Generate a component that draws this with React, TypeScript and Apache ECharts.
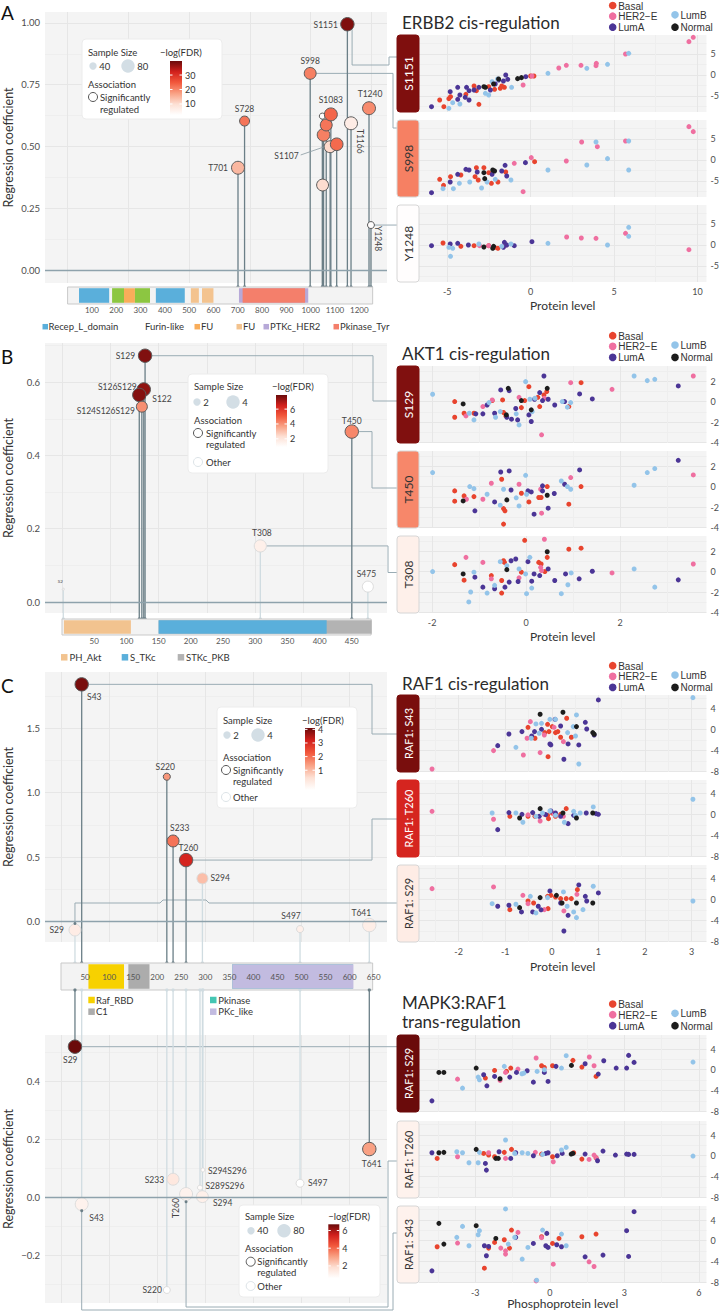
import React, { useEffect, useRef } from "react";
import * as echarts from "echarts";

const LATO = "Lato, 'Open Sans', 'DejaVu Sans', sans-serif";
const ARIAL = "'Liberation Sans', Arial, sans-serif";
const TXT = "#333333";
const TICK = "#4d4d4d";
const BG = "#f4f4f4";
const GRID_MAJOR = "#e6e6e6";
const GRID_MINOR = "#eeeeee";
const STEM_SIG = "#6b7f87";
const STEM_OTHER = "#d0dce1";
const ZERO = "#8ea2ac";
const LINK = "#9aacb4";

/* ---------------- subtypes ---------------- */
const SUBTYPES = ["Basal", "HER2\u2212E", "LumA", "LumB", "Normal"];
const SUB_KEYS = ["Basal", "HER2", "LumA", "LumB", "Normal"];
const SUBTYPE_COLORS = ["#e8442e", "#ef6fa0", "#4b3596", "#93c4e9", "#1d1d1d"];

/* -log(FDR) colour ramp */
const FDR_STOPS: [number, string][] = [
  [0, "#ffffff"], [0.2, "#fde0d4"], [0.4, "#f9a184"], [0.6, "#f2583c"], [0.8, "#d2201c"], [1, "#6a0b0b"],
];

/* ---------------- ERBB2 (panel A) ---------------- */
const ERBB2_LEN = 1255;
const ERBB2_SITES = ["S1050", "S1051", "S1079", "S1053", "S1064", "S1083", "S1107", "S1151", "S998", "T1240", "S728", "T701", "T1166", "Y1248"];
const ERBB2_POS = [1048, 1049, 1080, 1053, 1064, 1083, 1107, 1151, 998, 1240, 728, 701, 1166, 1248];
const ERBB2_COEF = [0.623, 0.344, 0.499, 0.547, 0.587, 0.63, 0.509, 0.995, 0.796, 0.655, 0.603, 0.414, 0.594, 0.182];
const ERBB2_N = [31, 70, 70, 75, 70, 77, 75, 80, 70, 77, 57, 77, 77, 37];
const ERBB2_FDR = [2.8, 10.2, 10.6, 20.7, 21.8, 23.3, 22.9, 38.2, 20.7, 19.6, 21.8, 14.7, 6.9, 2.8];
const ERBB2_SIG = [1, 1, 1, 1, 1, 1, 1, 1, 1, 1, 1, 1, 1, 1];
const ERBB2_DOM_START = [47, 183, 232, 277, 363, 507, 553, 705, 720];
const ERBB2_DOM_END = [171, 232, 277, 339, 482, 540, 600, 990, 977];
const ERBB2_DOM_COLORS = ["#5aafdb", "#8cc641", "#f9ad5a", "#8cc641", "#5aafdb", "#f3c38f", "#f3c38f", "#b7a9d8", "#f47f6b"];
const ERBB2_LEGEND = ["Recep_L_domain", "Furin-like", "FU", "FU", "PTKc_HER2", "Pkinase_Tyr"];
const ERBB2_LEGEND_COLORS = ["#5aafdb", "", "#f9ad5a", "#f3c38f", "#b7a9d8", "#f47f6b"];

const ERBB2_S1151 = {
  Basal: [[0.2, -0.24], [0.0, -0.24], [-1.57, -2.94], [-1.82, -3.17], [-2.16, -3.41], [-2.51, -2.78], [-3.1, -6.98], [-5.45, -5.95], [-5.2, -7.54], [-4.8, -5.16], [-4.9, -5.63], [-3.88, -4.6], [-3.39, -2.62], [-3.25, -3.73], [-1.73, -2.62]],
  HER2: [[9.75, 8.97], [9.49, 7.94], [5.69, 5.0], [1.69, 1.67], [2.14, 2.3], [3.02, 2.3], [3.94, 2.78], [3.92, 2.22], [-0.45, -2.38], [0.08, -0.24]],
  LumA: [[-5.94, -7.54], [-4.82, -3.97], [-4.37, -2.94], [-3.84, -2.94], [-3.69, -3.73], [-4.24, -4.76], [-3.92, -5.32], [-3.69, -5.95], [-4.37, -5.79], [-1.49, 0], [-1.92, -1.19], [-2.12, -2.14], [-1.63, -1.43], [-1.37, -1.03], [-0.29, -0.4], [-3.1, -2.94], [-2.41, -3.57], [-3.39, -3.57]],
  LumB: [[5.88, 5.16], [4.61, 2.54], [3.37, 1.59], [1.04, 0.4], [-1.14, -2.94], [-1.98, -0.95], [-2.71, -4.37], [-4.9, -7.94], [-4.24, -6.9], [-4.67, -6.59], [-2.31, -1.59], [-2.51, -4.76]],
  Normal: [[-2.8, -2.78], [-2.71, -2.94], [-2.22, -2.14], [-1.92, -0.95], [-0.78, -0.87], [-0.55, -0.63]],
};
const ERBB2_S998 = {
  Basal: [[0.24, -0.4], [-5.45, -4.6], [-5.22, -6.03], [-4.8, -3.97], [-4.18, -3.57], [-3.25, -1.83], [-3.14, -4.76], [-2.8, -1.83], [-2.51, -3.02], [-2.35, -5.56], [-1.96, -5.24], [-1.49, -2.86], [-3.33, -3.97]],
  HER2: [[9.49, 7.94], [9.75, 6.75], [3.06, 4.29], [5.69, 4.52], [4.0, 3.17], [0.04, 0.56], [2.14, -0.24], [-0.45, -7.54], [-0.98, -0.79]],
  LumA: [[-5.94, -7.78], [-4.82, -5.24], [-4.37, -3.41], [-3.88, -2.22], [-3.69, -2.38], [-3.2, -2.86], [-1.53, -1.27], [-1.73, -2.62], [-1.43, -3.81], [-0.31, -0.63], [-2.31, -3.41]],
  LumB: [[5.88, 4.52], [3.92, 4.29], [4.61, 0.32], [3.37, -1.19], [5.88, -2.38], [1.04, -2.38], [-1.18, -4.76], [-2.94, -6.67], [-4.63, -6.83], [-5.25, -6.83], [-4.27, -5.56], [-3.65, -5.24], [-2.61, -5.24], [-2.12, -4.6]],
  Normal: [[-2.8, -3.02], [-2.75, -4.44], [-2.27, -2.38], [-2.16, -2.62]],
};
const ERBB2_Y1248 = {
  Basal: [[-5.25, 0.48], [-4.18, -0.32], [-3.39, -0.16], [-2.51, -0.16], [-1.96, -0.79], [-2.16, -0.56]],
  HER2: [[9.49, -1.11], [5.69, 2.78], [2.16, 1.9], [3.04, 1.67], [3.92, 1.59], [-3.06, -0.16], [-2.51, -0.16], [-1.53, -0.16]],
  LumA: [[-5.94, -0.16], [-4.82, 0.24], [-4.37, 0.4], [-1.57, 0.63], [-1.43, 0], [-0.98, -0.16], [0.08, 0.79], [-1.63, -0.56], [-3.73, 0]],
  LumB: [[5.88, 4.21], [5.88, 2.06], [4.61, 0], [1.04, 0.4], [-4.8, -2.7], [-4.9, -0.56], [-4.67, -0.79], [-3.1, 0.24], [-1.18, 0.24], [-1.73, -0.32]],
  Normal: [[-2.8, -0.48], [-2.22, -0.32], [-2.27, -0.79]],
};

/* ---------------- AKT1 (panel B) ---------------- */
const AKT1_LEN = 480;
const AKT1_SITES = ["S2", "T308", "S475", "S129", "S126S129", "S122", "S124S126S129", "T450"];
const AKT1_POS = [2, 308, 475, 129, 127, 120, 124, 450];
const AKT1_COEF = [0.035, 0.153, 0.042, 0.672, 0.58, 0.565, 0.533, 0.465];
const AKT1_N = [0.2, 3.6, 3.2, 4, 4, 4, 3.2, 4];
const AKT1_FDR = [0.9, 1.6, 0.9, 7.6, 7.4, 7.55, 4.05, 4.2];
const AKT1_SIG = [0, 0, 0, 1, 1, 1, 1, 1];
const AKT1_DOM_START = [3, 150, 150];
const AKT1_DOM_END = [107, 481, 411];
const AKT1_DOM_COLORS = ["#f2c38f", "#b3b3b3", "#5aafdb"];
const AKT1_LEGEND = ["PH_Akt", "S_TKc", "STKc_PKB"];
const AKT1_LEGEND_COLORS = ["#f2c38f", "#5aafdb", "#b3b3b3"];

const AKT1_S129 = {
  Basal: [[-1.52, 0], [-1.52, -1.53], [-1.32, -1.14], [-1.11, -1.14], [-0.72, 0.1], [-0.5, 0.16], [-0.48, -1.07], [-0.43, -1.4], [-0.03, 0.1], [0.06, 1.46], [-0.1, -0.59], [0.25, 0.42], [0.29, -0.49], [0.38, 0.65], [0.44, 0.98], [1.17, 1.85], [0.91, -0.49]],
  HER2: [[-0.72, 0.16], [-0.92, -0.49], [-0.15, 0.42], [0.33, -3.25], [0.95, 1.85], [1.83, 1.2], [3.56, 2.5], [0.39, 0.33], [-1.28, -1.4]],
  LumA: [[0.38, 2.5], [-0.54, 1.14], [-0.36, 1.07], [-0.83, -0.33], [-0.22, -0.68], [0.18, 0.23], [0.29, 0.88], [0.35, 0.1], [0.47, 0.23], [0.61, -0.33], [0.82, 0], [1.14, 0.75], [1.41, 0.26], [3.24, 1.53], [-0.92, -1.2], [-0.67, -1.14], [-0.31, -1.72], [-0.18, -1.79], [0.06, -1.3], [0.11, -1.95], [-1.07, -1.2], [-0.41, -1.53]],
  LumB: [[-1.99, 0.72], [2.3, 2.5], [2.58, 2.05], [2.74, 2.18], [-0.01, 1.95], [-1.21, -1.14], [-1.11, -1.79], [-0.79, -0.1], [-0.65, -1.53], [-0.55, -0.98], [-0.21, -1.2], [-0.15, -2.28], [0.08, 0.23], [0.19, 0.33], [0.77, 0], [0.88, -0.55], [0.95, -0.1], [0.13, -0.98]],
  Normal: [[-1.34, -0.23], [-0.38, 1.3], [-0.1, 0.1], [0.11, -0.81], [0.45, 1.3], [-0.42, -1.3]],
};
const AKT1_T450 = {
  Basal: [[-1.52, -0.42], [-1.52, -1.43], [-1.32, -0.91], [-1.11, -0.98], [-0.52, 0.72], [-0.48, -2.15], [-0.45, -2.37], [-0.48, -3.67], [-0.1, -0.65], [0.06, -1.5], [0.27, -1.07], [0.32, -1.07], [0.45, 0], [0.91, -1.72], [1.17, 0]],
  HER2: [[-0.74, 0.33], [-0.92, -1.24], [-0.15, 0.23], [0.33, -2.6], [0.95, 0.88], [3.56, 1.14], [0.31, -0.26], [-1.27, -1.24]],
  LumA: [[-0.54, 1.43], [-0.36, 1.53], [-0.32, -0.33], [0.04, -0.42], [0.11, -0.52], [0.35, 0.07], [0.35, -0.42], [0.6, -0.68], [0.82, 0.23], [1.14, 1.63], [3.24, 2.57], [-1.09, -2.37], [-0.67, -1.5], [0.17, -2.7], [0.47, -2.11]],
  LumB: [[-1.99, 1.37], [2.3, 0.13], [2.58, 1.37], [2.74, 1.76], [-0.01, 1.1], [-1.2, 0], [-1.11, -0.2], [-0.83, -0.75], [-0.55, -1.82], [-0.48, -0.26], [-0.21, -1.1], [-0.15, -1.89], [0.01, -0.75], [0.75, 0.55], [0.88, 0], [0.95, -0.26]],
  Normal: [[-1.34, -1.4], [-0.41, -1.3], [0.45, -0.85]],
};
const AKT1_T308 = {
  Basal: [[-1.52, 0.68], [-1.32, -0.84], [-0.74, -0.39], [-0.52, -0.87], [-0.52, -2.1], [-0.48, 1.06], [-0.46, 0.9], [-0.1, -0.06], [0.27, 0.9], [0.32, 0.74], [0.4, 0], [0.45, 1.39], [0.91, 2.19], [1.17, 2.29], [-0.03, 3.06]],
  HER2: [[-1.28, 1.39], [-0.92, 0.9], [-0.74, -0.71], [-0.15, -0.61], [0.31, 0.42], [0.33, 0.1], [1.83, -0.13], [3.56, 0.74], [0.39, 3.16]],
  LumA: [[-1.09, -0.55], [-0.92, -1.52], [-0.67, -1.68], [-0.45, -1.52], [-0.36, -1.03], [-0.32, 1.06], [-0.22, 1.23], [-0.17, -0.97], [0.04, 0.97], [0.12, -0.94], [0.17, -0.23], [0.29, -0.39], [0.47, 0.26], [0.61, -0.87], [0.84, -0.23], [1.13, -0.71], [1.41, 0.03], [3.24, -0.81]],
  LumB: [[-1.99, 0], [-1.18, -2.0], [-1.22, -2.97], [-1.11, -0.06], [-0.83, -2.1], [-0.67, -1.35], [-0.55, 0.97], [-0.41, 0.58], [-0.15, 0.26], [-0.01, -0.23], [0.01, -2.16], [0.08, 1.39], [0.12, -1.61], [0.75, -2.16], [0.89, -1.29], [0.96, -0.13], [2.3, 0.26], [2.74, -1.52]],
  Normal: [[-1.34, -0.23], [-0.41, 0.19], [0.45, 1.94]],
};

/* ---------------- RAF1 (panel C) ---------------- */
const RAF1_LEN = 648;
const RAF1_CIS_SITES = ["S29", "S497", "T641", "S294", "S43", "S220", "S233", "T260"];
const RAF1_CIS_POS = [29, 497, 641, 294, 43, 220, 233, 260];
const RAF1_CIS_COEF = [-0.064, -0.057, -0.026, 0.336, 1.84, 1.124, 0.626, 0.478];
const RAF1_CIS_N = [3.5, 1.9, 4, 3.2, 4, 1.9, 3.5, 4];
const RAF1_CIS_FDR = [0.1, 0.0, 0.05, 0.95, 3.97, 1.49, 1.94, 3.11];
const RAF1_CIS_SIG = [0, 0, 0, 0, 1, 1, 1, 1];

const RAF1_TRANS_SITES = ["S220", "S43", "T260", "S294", "S289S296", "S294S296", "S233", "S497", "T641", "S29"];
const RAF1_TRANS_POS = [220, 43, 260, 294, 289, 295, 233, 497, 641, 29];
const RAF1_TRANS_COEF = [-0.319, -0.023, 0.012, 0.003, 0.034, 0.095, 0.063, 0.049, 0.167, 0.52];
const RAF1_TRANS_N = [37, 77, 77, 70, 24, 18, 70, 44, 80, 80];
const RAF1_TRANS_FDR = [0.6, 1.1, 1.1, 1.2, 0.7, 0.7, 1.5, 0.6, 3.04, 6.7];
const RAF1_TRANS_SIG = [0, 0, 0, 0, 0, 0, 0, 0, 1, 1];

const RAF1_DOM_START = [57, 140, 356, 356];
const RAF1_DOM_END = [131, 184, 607, 608];
const RAF1_DOM_COLORS = ["#f7d100", "#acacac", "#45c6b3", "#c2bbe0"];
const RAF1_LEGEND = ["Raf_RBD", "C1", "Pkinase", "PKc_like"];
const RAF1_LEGEND_COLORS = ["#f7d100", "#acacac", "#45c6b3", "#c2bbe0"];

const RAF1_S43 = {
  Basal: [[-0.51, 0.38], [-0.36, -1.71], [-0.09, 0.95], [0.01, 0.51], [0.08, -0.63], [0.13, -0.44], [0.19, -1.52], [0.32, 2.1], [0.42, -1.52], [-0.08, -5.21], [-0.15, -0.63], [-0.06, -0.44]],
  HER2: [[-2.57, -7.56], [-1.25, -4.06], [-0.61, -4.89], [-0.25, -4.44], [-0.46, 1.46], [-0.53, -1.71], [0.25, -2.35], [-0.16, -1.08], [0.05, 0.38]],
  LumA: [[1.0, 5.59], [-0.92, -0.89], [-1.16, -3.11], [-0.64, -0.44], [-0.22, 0], [0.07, 1.9], [-0.04, -2.79], [-0.02, -2.98], [0.19, 0.63], [0.26, -5.71], [0.35, -2.79], [0.58, -2.98], [0.72, 1.33], [0.75, 0.06], [0.91, -1.08], [-0.43, -1.27], [-0.37, -0.44]],
  LumB: [[3.03, 6.03], [0.53, 2.73], [-0.04, 1.9], [-0.22, 1.14], [-0.34, 1.02], [-0.27, -0.76], [-0.77, -3.43], [0.34, -0.63], [0.51, -1.27], [0.58, -6.6], [0.46, 0.51], [0.08, 1.9], [-0.44, -1.71]],
  Normal: [[-0.25, 2.86], [0.24, 3.24], [0.53, 0.51], [0.88, -0.63], [0.91, -0.95]],
};
const RAF1_T260 = {
  Basal: [[-0.9, -0.38], [-0.51, -0.38], [-0.36, -0.38], [-0.09, -0.19], [0.01, 0.25], [0.08, -0.38], [0.19, 0], [0.31, 1.08], [-0.07, -0.83]],
  HER2: [[-2.57, 0.57], [-1.25, -0.95], [-0.25, -1.27], [-0.51, -0.1], [-0.16, 0], [0.25, -0.38], [0.05, 0.1]],
  LumA: [[-1.16, -2.92], [-0.92, 0.32], [-0.64, 0], [-0.41, 0.32], [-0.27, -0.38], [-0.13, -0.06], [-0.02, 0.63], [0.08, 0.25], [0.19, -0.38], [0.35, -1.78], [0.47, -0.19], [0.74, 0.25], [1.0, 0], [0.95, 0.13]],
  LumB: [[3.03, 2.86], [-1.28, 0.25], [-0.77, 0.25], [-0.62, -1.52], [-0.34, -0.38], [-0.2, 0.25], [0.08, -0.19], [0.27, -1.52], [0.47, 0.57], [0.51, -0.19], [0.61, 0.25], [0.89, 1.4], [-0.04, 0.63]],
  Normal: [[-0.25, 1.08], [-0.69, -0.7], [0.24, 0.25], [0.53, -0.7], [0.88, 0.25]],
};
const RAF1_S29 = {
  Basal: [[-0.9, -1.97], [-0.51, -0.32], [-0.39, -0.7], [-0.09, 0.57], [-0.02, 0.76], [0.08, 0.44], [0.19, 0.13], [0.31, 0.13], [0.42, 0.13], [0.55, 1.84], [-0.08, -1.78]],
  HER2: [[-2.57, 2.03], [-1.25, 2.35], [-0.62, 0.76], [-0.51, -0.83], [-0.16, -1.97], [0.26, -2.22], [0.54, 0.95]],
  LumA: [[-1.16, -1.33], [-0.92, -1.14], [-0.65, -2.41], [-0.41, -2.41], [-0.29, -1.33], [-0.04, 1.59], [0.19, -0.7], [0.26, -6.03], [0.35, -3.05], [0.58, 2.73], [0.72, 0.57], [0.75, -0.32], [1.0, 1.21], [-0.23, -2.0]],
  LumB: [[-1.28, -0.83], [-0.77, -0.95], [-0.34, -2.6], [-0.46, 0.57], [-0.09, 0.32], [0.25, 1.4], [0.47, -2.41], [0.53, -3.49], [0.67, -1.97], [0.89, 2.48], [0.33, -1.33], [3.03, -0.32]],
  Normal: [[-0.69, -1.59], [-0.25, 0.32], [0.1, 0.76], [0.22, -0.7], [0.53, -0.7], [0.88, -0.7]],
};
const MAPK3_S29 = {
  Basal: [[-2.59, -1.61], [-2.22, -0.13], [-1.74, -0.32], [-1.57, 0.32], [-0.33, 0.77], [0.11, 0.77], [0.93, 1.81], [1.29, 0.52], [1.86, -1.29], [-0.22, 0.45]],
  HER2: [[-3.71, -1.81], [-0.55, 2.26], [1.59, 2.45], [1.78, 0.77], [-1.28, 0.13], [-1.78, -0.52], [-2.0, -2.06]],
  LumA: [[-2.66, -0.97], [-2.53, -3.1], [-2.22, -1.29], [-1.61, -1.42], [-1.34, -0.52], [-0.91, -0.19], [-0.66, -2.39], [-0.22, -0.52], [-0.07, -2.26], [0.25, 0.65], [1.42, 1.16], [1.95, -0.84], [2.17, 1.74], [2.67, 0.32], [3.09, 0.32], [3.17, 2.77], [3.39, 1.42], [-4.74, -6.0]],
  LumB: [[-3.51, -3.55], [-2.88, -1.42], [-2.83, -1.94], [-1.83, 0.65], [-1.12, -0.77], [-1.04, -0.65], [-0.51, -0.32], [-0.22, 0], [0.47, 0.32], [0.66, 2.71], [5.76, 1.48]],
  Normal: [[-4.46, -0.52], [-4.26, -0.52], [-2.96, 0.32], [-2.0, -1.74], [0.87, 0.84]],
};
const MAPK3_T260 = {
  Basal: [[-4.53, -0.52], [-2.46, 0.13], [-2.22, -0.19], [-1.83, 0.65], [-1.54, 1.23], [-0.33, 0.32], [0.11, -0.19], [0.96, 0.58], [1.29, -0.65], [1.86, -0.39], [-2.66, 0.45]],
  HER2: [[-3.71, -0.19], [-2.46, 0.58], [-1.78, -0.52], [-0.58, 0.65], [0.14, -1.16], [1.58, -0.71], [1.78, 0.13], [1.88, -0.5]],
  LumA: [[-4.74, 0.58], [-2.59, -1.48], [-2.55, -2.77], [-2.04, 0.77], [-1.57, -0.52], [-1.37, 0.58], [-0.66, 0], [-0.16, 0.45], [-0.07, 0.58], [0.3, 0], [0.5, 0.45], [1.42, 0.32], [1.92, -0.97], [2.14, 0.9], [2.64, 0.13], [3.09, 0.32], [3.17, 0.26], [3.39, 0.26]],
  LumB: [[-3.74, 0.77], [-3.51, 0.58], [-3.25, -1.35], [-2.88, -1.35], [-2.83, 0.65], [-1.78, 3.03], [-1.41, 0.45], [-1.11, 0.58], [-0.88, 0.45], [-0.29, 0.26], [0.66, 1.61], [5.76, -0.06], [0.47, 1.1]],
  Normal: [[-4.46, 0.58], [-4.26, 0.65], [-2.96, 1.23], [-2.17, -0.52], [-2.07, -0.52], [0.86, 0.32], [0.93, 0.45]],
};
const MAPK3_S43 = {
  Basal: [[-4.53, -1.16], [-2.63, -5.29], [-2.46, -1.42], [-2.22, -0.32], [-1.83, 0.19], [-1.62, -1.42], [-1.54, 2.06], [-0.33, 0.77], [0.11, -0.52], [0.37, 0.45], [1.29, 0.77], [1.86, 1.29]],
  HER2: [[-3.71, -0.45], [-1.97, -1.42], [-1.78, -1.94], [-1.78, -2.58], [-1.28, 1.61], [-0.55, -7.74], [0.14, -4.52], [1.58, -4.06], [1.78, -4.97], [-0.33, 0.6]],
  LumA: [[-4.74, -5.81], [-2.55, -2.9], [-2.46, -1.1], [-2.63, -0.97], [-1.37, 0.65], [-0.66, -0.52], [-0.12, 1.42], [-0.16, -0.97], [-0.07, -1.29], [0.28, -0.77], [0.47, -1.16], [1.42, -3.1], [2.14, -2.77], [3.09, 1.94], [3.17, -3.03], [3.39, 5.61]],
  LumB: [[-3.74, 0.65], [-3.51, 2.77], [-3.25, -0.97], [-2.88, 1.16], [-2.83, 1.94], [-1.78, 6.13], [-1.67, -0.65], [-1.41, 0.65], [-1.11, -3.55], [-0.88, -1.29], [-0.29, 2.06], [-0.53, -7.61], [0.47, 1.29], [0.66, -0.97]],
  Normal: [[-4.46, 3.35], [-4.26, -0.65], [-2.96, 2.9], [-2.17, 0.45]],
};

/* ---------------- label layout (offsets in px, not data) ---------------- */
const LAB_A: any = {
  S1151: { dx: -9.5, dy: 0.5, al: "right" },
  S998: { dx: 0, dy: -12.5 },
  T1240: { dx: 1, dy: -14 },
  S728: { dx: 0, dy: -12 },
  T701: { dx: -10, dy: 0, al: "right" },
  S1083: { dx: 0, dy: -14 },
  S1107: { dx: -38, dy: 12, al: "right", lead: [-36, 10.7, -12, 2.4] },
  T1166: { dx: 8.5, dy: 18, rot: -90 },
  Y1248: { dx: 7.5, dy: 13.5, rot: -90 },
};
const LAB_B: any = {
  S129: { dx: -10, dy: 0, al: "right" },
  S126S129: { dx: -7, dy: -2, al: "right" },
  S122: { dx: 13, dy: 4, al: "left" },
  S124S126S129: { dx: -7, dy: 4.5, al: "right" },
  T450: { dx: 0, dy: -11 },
  T308: { dx: 1.5, dy: -13 },
  S475: { dx: -1.5, dy: -13 },
  S2: { dx: -3, dy: -7.5, fs: 4.5 },
};
const LAB_C: any = {
  S43: { dx: 12.6, dy: 12.4 },
  S220: { dx: -1.6, dy: -10 },
  S233: { dx: 6.7, dy: -12.7 },
  T260: { dx: 2.3, dy: -12 },
  S294: { dx: 8, dy: 0, al: "left" },
  S29: { dx: -11, dy: 0, al: "right" },
  S497: { dx: -9, dy: -13 },
  T641: { dx: -8, dy: -12 },
};
const LAB_T: any = {
  S29: { dx: -4.7, dy: 13.3 },
  T641: { dx: 2.4, dy: 15 },
  S233: { dx: -9, dy: 0.7, al: "right" },
  S294S296: { dx: 5, dy: 1, al: "left" },
  S289S296: { dx: 5.5, dy: -2, al: "left" },
  T260: { dx: -10, dy: 14, rot: 90 },
  S294: { dx: 10.5, dy: 6.6, al: "left" },
  S497: { dx: 8, dy: 0, al: "left" },
  S43: { dx: 7.6, dy: 14, al: "left" },
  S220: { dx: -5, dy: 0, al: "right" },
};

/* ---------------- helpers ---------------- */
function mix(c1: string, c2: string, t: number) {
  const a = parseInt(c1.slice(1), 16), b = parseInt(c2.slice(1), 16);
  const r = Math.round(((a >> 16) & 255) * (1 - t) + ((b >> 16) & 255) * t);
  const g = Math.round(((a >> 8) & 255) * (1 - t) + ((b >> 8) & 255) * t);
  const bl = Math.round((a & 255) * (1 - t) + (b & 255) * t);
  return "#" + ((1 << 24) + (r << 16) + (g << 8) + bl).toString(16).slice(1);
}
function fdrT(v: number, lo: number, hi: number) {
  return Math.max(0, Math.min(1, (v - lo) / (hi - lo)));
}
function fdrColor(v: number, lo: number, hi: number) {
  const t = fdrT(v, lo, hi);
  for (let i = 1; i < FDR_STOPS.length; i++) {
    const [t0, c0] = FDR_STOPS[i - 1];
    const [t1, c1] = FDR_STOPS[i];
    if (t <= t1) return mix(c0, c1, (t - t0) / (t1 - t0));
  }
  return FDR_STOPS[FDR_STOPS.length - 1][1];
}
function fmtStep(step: number, dec: number, minus: string) {
  return (v: number) => {
    const q = v / step;
    if (Math.abs(q - Math.round(q)) > 1e-6) return "";
    const r = Math.round(q) * step;
    const s = Math.abs(r).toFixed(dec);
    return r < -1e-9 ? minus + s : s;
  };
}

/* panel configs */
const CFG_A = { top: 12, height: 271, xMin: -93, xMax: 1314, xGrid: 250, yMin: -0.0526, yMax: 1.0445, yStep: 0.25, yDec: 2, lo: 2.4, hi: 39.7, k: 0.075, stemEnd: 287, sites: ERBB2_SITES, pos: ERBB2_POS, coef: ERBB2_COEF, n: ERBB2_N, fdr: ERBB2_FDR, sig: ERBB2_SIG, labels: LAB_A };
const CFG_B = { top: 343, height: 270, xMin: -26.4, xMax: 504.7, xGrid: 75, yMin: -0.03, yMax: 0.7067, yStep: 0.2, yDec: 1, lo: 0.9, hi: 7.9, k: 1.5, stemEnd: 619, sites: AKT1_SITES, pos: AKT1_POS, coef: AKT1_COEF, n: AKT1_N, fdr: AKT1_FDR, sig: AKT1_SIG, labels: LAB_B };
const CFG_C = { top: 672, height: 270, xMin: -33.3, xMax: 677.8, xGrid: 100, yMin: -0.157, yMax: 1.9357, yStep: 0.5, yDec: 1, lo: -0.45, hi: 4.1, k: 1.5, stemEnd: 963, sites: RAF1_CIS_SITES, pos: RAF1_CIS_POS, coef: RAF1_CIS_COEF, n: RAF1_CIS_N, fdr: RAF1_CIS_FDR, sig: RAF1_CIS_SIG, labels: LAB_C };
const CFG_T = { top: 1035, height: 268, xMin: -33.3, xMax: 677.8, xGrid: 100, yMin: -0.3638, yMax: 0.5603, yStep: 0.2, yDec: 1, lo: 0.6, hi: 6.7, k: 0.075, stemEnd: 990, sites: RAF1_TRANS_SITES, pos: RAF1_TRANS_POS, coef: RAF1_TRANS_COEF, n: RAF1_TRANS_N, fdr: RAF1_TRANS_FDR, sig: RAF1_TRANS_SIG, labels: LAB_T };

const radius = (n: number, k: number) => 0.7 + k * n;

function buildOption() {
  const grid: any[] = [], xAxis: any[] = [], yAxis: any[] = [], series: any[] = [];

  const lolli = (c: any) => {
    const gi = grid.length;
    grid.push({ left: 45, width: 342, top: c.top, height: c.height, show: true, backgroundColor: BG, borderWidth: 0 });
    xAxis.push({
      gridIndex: gi, type: "value", min: c.xMin, max: c.xMax, minInterval: c.xGrid, maxInterval: c.xGrid,
      axisLabel: { show: false }, axisLine: { show: false }, axisTick: { show: false },
      splitLine: { show: true, showMinLine: false, showMaxLine: false, lineStyle: { color: GRID_MAJOR } },
    });
    yAxis.push({
      gridIndex: gi, type: "value", min: c.yMin, max: c.yMax, minInterval: c.yStep, maxInterval: c.yStep,
      name: "Regression coefficient", nameLocation: "middle", nameGap: 30,
      nameTextStyle: { fontSize: 12.5, color: TXT, fontFamily: LATO },
      axisLine: { show: false }, axisTick: { show: false },
      axisLabel: { fontSize: 9.5, color: TICK, fontFamily: LATO, margin: 5, showMinLabel: false, showMaxLabel: false, formatter: fmtStep(c.yStep, c.yDec, "\u2212") },
      splitLine: { showMinLine: false, showMaxLine: false, lineStyle: { color: GRID_MAJOR } },
      minorTick: { show: false, splitNumber: 2 },
      minorSplitLine: { show: true, lineStyle: { color: GRID_MINOR } },
    });
    // zero line
    series.push({
      type: "scatter", xAxisIndex: gi, yAxisIndex: gi, data: [[0, 0]], symbolSize: 0, silent: true, z: 1,
      markLine: { silent: true, symbol: "none", label: { show: false }, lineStyle: { color: ZERO, width: 1.3, type: "solid" }, data: [{ yAxis: 0 }] },
    });
    // stems
    series.push({
      type: "custom", xAxisIndex: gi, yAxisIndex: gi, z: 2, silent: true, clip: false,
      data: c.pos.map((p: number, i: number) => [p, c.coef[i], c.sig[i]]),
      renderItem: (params: any, api: any) => {
        const p = api.coord([api.value(0), api.value(1)]);
        const col = api.value(2) ? STEM_SIG : STEM_OTHER;
        return {
          type: "group",
          children: [
            { type: "line", shape: { x1: p[0], y1: p[1], x2: p[0], y2: c.stemEnd }, style: { stroke: col, lineWidth: 1.3 } },
            { type: "circle", shape: { cx: p[0], cy: c.stemEnd, r: 1.6 }, style: { fill: col } },
          ],
        };
      },
    });
    // circles
    series.push({
      type: "scatter", xAxisIndex: gi, yAxisIndex: gi, z: 3, silent: true, clip: false,
      data: c.pos.map((p: number, i: number) => ({
        value: [p, c.coef[i]],
        symbolSize: 2 * radius(c.n[i], c.k),
        itemStyle: { color: fdrColor(c.fdr[i], c.lo, c.hi), borderColor: c.sig[i] ? "#5a5a5a" : "#dcdcdc", borderWidth: 1, opacity: 1 },
      })),
    });
    // labels
    series.push({
      type: "custom", xAxisIndex: gi, yAxisIndex: gi, z: 4, silent: true, clip: false,
      data: c.pos.map((p: number, i: number) => [p, c.coef[i], i]),
      renderItem: (params: any, api: any) => {
        const name = c.sites[api.value(2)];
        const L = c.labels[name];
        if (!L) return { type: "group", children: [] };
        const p = api.coord([api.value(0), api.value(1)]);
        const children: any[] = [{
          type: "text", x: p[0] + L.dx, y: p[1] + L.dy, rotation: ((L.rot || 0) * Math.PI) / 180,
          style: { text: name, fill: "#444", fontSize: L.fs || 8.5, fontFamily: LATO, align: L.al || "center", verticalAlign: "middle" },
        }];
        if (L.lead) children.push({ type: "line", shape: { x1: p[0] + L.lead[0], y1: p[1] + L.lead[1], x2: p[0] + L.lead[2], y2: p[1] + L.lead[3] }, style: { stroke: "#8a9aa2", lineWidth: 0.8 } });
        return { type: "group", children };
      },
    });
    return gi;
  };

  const bar = (c: any) => {
    const gi = grid.length;
    grid.push({ left: 45, width: 342, top: c.top, height: c.height, show: false });
    xAxis.push({
      gridIndex: gi, type: "value", min: c.xMin, max: c.xMax, minInterval: c.tick, maxInterval: c.tick,
      position: c.inside ? "top" : "bottom", z: 10,
      axisLine: { show: false }, axisTick: { show: false }, splitLine: { show: false },
      axisLabel: {
        inside: !!c.inside, margin: c.margin, fontSize: 8, color: "#555", fontFamily: LATO, showMinLabel: false, showMaxLabel: false,
        formatter: (v: number) => {
          const r = Math.round(v);
          return Math.abs(v - r) < 1e-6 && r > 0 && r <= c.maxLabel && r % c.tick === 0 ? String(r) : "";
        },
      },
    });
    yAxis.push({ gridIndex: gi, type: "value", min: 0, max: 1, show: false });
    series.push({
      type: "custom", xAxisIndex: gi, yAxisIndex: gi, z: 2, silent: true, clip: false,
      data: [[0, c.len]],
      renderItem: (params: any, api: any) => {
        const a = api.coord([api.value(0), 1]);
        const b = api.coord([api.value(1), 0]);
        return { type: "rect", shape: { x: a[0], y: a[1], width: b[0] - a[0], height: b[1] - a[1] }, style: { fill: "#f3f3f3", stroke: "#c9c9c9", lineWidth: 1 } };
      },
    });
    series.push({
      type: "custom", xAxisIndex: gi, yAxisIndex: gi, z: 3, silent: true, clip: false,
      data: c.start.map((s: number, i: number) => [s, c.end[i], i]),
      renderItem: (params: any, api: any) => {
        const a = api.coord([api.value(0), 1]);
        const b = api.coord([api.value(1), 0]);
        return { type: "rect", shape: { x: a[0], y: a[1] + 1.2, width: b[0] - a[0], height: b[1] - a[1] - 2.4 }, style: { fill: c.colors[api.value(2)] } };
      },
    });
    return gi;
  };

  const facets = (c: any) => {
    const ids: number[] = [];
    c.tops.forEach((top: number, k: number) => {
      const gi = grid.length;
      ids.push(gi);
      const last = k === c.tops.length - 1;
      grid.push({ left: 419, width: 293, top, height: c.h, show: true, backgroundColor: BG, borderWidth: 0 });
      xAxis.push({
        gridIndex: gi, type: "value", min: c.xMin, max: c.xMax, minInterval: c.xStep, maxInterval: c.xStep,
        axisLine: { show: false }, axisTick: { show: false },
        axisLabel: { show: last, fontSize: 9, color: TICK, fontFamily: LATO, margin: 5, showMinLabel: false, showMaxLabel: false, formatter: fmtStep(c.xStep, 0, "-") },
        splitLine: { showMinLine: false, showMaxLine: false, lineStyle: { color: GRID_MAJOR } },
        minorTick: { show: false, splitNumber: 2 },
        minorSplitLine: { show: true, lineStyle: { color: GRID_MINOR } },
        name: last ? c.title : "", nameLocation: "middle", nameGap: c.nameGap,
        nameTextStyle: { fontSize: 12, color: TXT, fontFamily: LATO },
      });
      yAxis.push({
        gridIndex: gi, type: "value", position: "right", min: c.yMin, max: c.yMax, minInterval: c.yStep, maxInterval: c.yStep,
        axisLine: { show: false }, axisTick: { show: false },
        axisLabel: { fontSize: 9, color: TICK, fontFamily: LATO, margin: 4, showMinLabel: false, showMaxLabel: false, formatter: fmtStep(c.yStep, 0, "-") },
        splitLine: { showMinLine: false, showMaxLine: false, lineStyle: { color: GRID_MAJOR } },
        minorTick: { show: false, splitNumber: 2 },
        minorSplitLine: { show: true, lineStyle: { color: GRID_MINOR } },
      });
      const pts: any = c.panels[k];
      SUB_KEYS.forEach((key, s) => {
        series.push({ type: "scatter", xAxisIndex: gi, yAxisIndex: gi, silent: true, symbolSize: 5, z: 3, itemStyle: { color: SUBTYPE_COLORS[s], opacity: 1 }, data: pts[key] });
      });
    });
    return ids;
  };

  const gA = lolli(CFG_A);
  bar({ top: 287, height: 17, xMin: CFG_A.xMin, xMax: CFG_A.xMax, tick: 100, maxLabel: 1200, margin: 2, len: ERBB2_LEN, start: ERBB2_DOM_START, end: ERBB2_DOM_END, colors: ERBB2_DOM_COLORS });
  facets({ tops: [35, 120, 205], h: 77, xMin: -6.69, xMax: 10.54, xStep: 5, yMin: -8.81, yMax: 9.52, yStep: 5, title: "Protein level", nameGap: 17, panels: [ERBB2_S1151, ERBB2_S998, ERBB2_Y1248] });

  const gB = lolli(CFG_B);
  bar({ top: 619, height: 16, xMin: CFG_B.xMin, xMax: CFG_B.xMax, tick: 50, maxLabel: 450, margin: 2, len: AKT1_LEN, start: AKT1_DOM_START, end: AKT1_DOM_END, colors: AKT1_DOM_COLORS });
  facets({ tops: [366, 451, 536], h: 77, xMin: -2.28, xMax: 3.84, xStep: 2, yMin: -4.05, yMax: 3.48, yStep: 2, title: "Protein level", nameGap: 17, panels: [AKT1_S129, AKT1_T450, AKT1_T308] });

  const gC = lolli(CFG_C);
  bar({ top: 963, height: 27, xMin: CFG_C.xMin, xMax: CFG_C.xMax, tick: 50, maxLabel: 650, margin: 9.5, inside: true, len: RAF1_LEN, start: RAF1_DOM_START, end: RAF1_DOM_END, colors: RAF1_DOM_COLORS });
  facets({ tops: [695, 780, 865], h: 77, xMin: -2.85, xMax: 3.32, xStep: 1, yMin: -8.13, yMax: 6.53, yStep: 4, title: "Protein level", nameGap: 18, panels: [RAF1_S43, RAF1_T260, RAF1_S29] });

  const gT = lolli(CFG_T);
  facets({ tops: [1035, 1121, 1206], h: 77, xMin: -5.26, xMax: 6.3, xStep: 3, yMin: -8.15, yMax: 6.7, yStep: 4, title: "Phosphoprotein level", nameGap: 14, panels: [MAPK3_S29, MAPK3_T260, MAPK3_S43] });

  return {
    option: { animation: false, textStyle: { fontFamily: LATO }, grid, xAxis, yAxis, series },
    ids: { gA, gB, gC, gT },
  };
}

function buildGraphics(chart: any, ids: any) {
  const g: any[] = [];
  const text = (x: number, y: number, t: string, o: any = {}) =>
    g.push({
      type: "text", x, y, z: o.z ?? 12, silent: true, rotation: o.rot ?? 0,
      style: { text: t, fill: o.color ?? TXT, fontSize: o.size ?? 9.5, fontFamily: o.font ?? LATO, align: o.align ?? "left", verticalAlign: o.va ?? "middle" },
    });
  const rect = (x: number, y: number, w: number, h: number, fill: any, o: any = {}) =>
    g.push({ type: "rect", z: o.z ?? 11, silent: true, shape: { x, y, width: w, height: h, r: o.r ?? 0 }, style: { fill, stroke: o.stroke ?? null, lineWidth: o.lw ?? 1 } });
  const circ = (cx: number, cy: number, r: number, fill: string, o: any = {}) =>
    g.push({ type: "circle", z: o.z ?? 12, silent: true, shape: { cx, cy, r }, style: { fill, stroke: o.stroke ?? null, lineWidth: o.lw ?? 1 } });
  const line = (x1: number, y1: number, x2: number, y2: number, col: string, o: any = {}) =>
    g.push({ type: "line", z: o.z ?? 12, silent: true, shape: { x1, y1, x2, y2 }, style: { stroke: col, lineWidth: o.lw ?? 1 } });
  const link = (pts: number[][]) =>
    g.push({ type: "polyline", z: 1, silent: true, shape: { points: pts }, style: { stroke: LINK, lineWidth: 1, fill: "none" } });
  const site = (gi: number, c: any, name: string) => {
    const i = c.sites.indexOf(name);
    return { p: chart.convertToPixel({ gridIndex: gi }, [c.pos[i], c.coef[i]]), r: radius(c.n[i], c.k), fill: fdrColor(c.fdr[i], c.lo, c.hi), t: fdrT(c.fdr[i], c.lo, c.hi) };
  };

  /* panel letters */
  text(1, 12, "A", { size: 19, color: "#111" });
  text(1, 356, "B", { size: 19, color: "#111" });
  text(1, 685, "C", { size: 19, color: "#111" });

  /* titles */
  text(402, 22, "ERBB2 cis-regulation", { size: 17, color: "#2b2b2b" });
  text(402, 353, "AKT1 cis-regulation", { size: 17, color: "#2b2b2b" });
  text(402, 683, "RAF1 cis-regulation", { size: 17, color: "#2b2b2b" });
  text(402, 1002, "MAPK3:RAF1", { size: 17, color: "#2b2b2b" });
  text(402, 1021.5, "trans-regulation", { size: 17, color: "#2b2b2b" });

  /* subtype legends */
  const subLegend = (y0: number) => {
    const pos = [[612.7, y0], [612.7, y0 + 10.7], [612.7, y0 + 21.7], [675, y0 + 9.3], [675, y0 + 21.7]];
    SUBTYPES.forEach((s, i) => {
      circ(pos[i][0], pos[i][1], 3.8, SUBTYPE_COLORS[i]);
      text(pos[i][0] + 5.5, pos[i][1] + 0.5, s, { size: 10, font: ARIAL, color: "#333" });
    });
  };
  subLegend(5.5);
  subLegend(335.7);
  subLegend(665.7);
  subLegend(1004);

  /* strips */
  const strip = (top: number, h: number, label: string, s: any, fs: number) => {
    const dark = s.t > 0.55;
    rect(397, top, 22, h, s.fill, { r: 3, stroke: dark ? s.fill : "#d6d6d6", z: 5 });
    text(408.5, top + h / 2, label, { rot: Math.PI / 2, align: "center", size: fs, color: dark ? "#ffffff" : "#333", z: 6 });
  };
  const sA1 = site(ids.gA, CFG_A, "S1151"), sA2 = site(ids.gA, CFG_A, "S998"), sA3 = site(ids.gA, CFG_A, "Y1248");
  strip(35, 77, "S1151", sA1, 12);
  strip(120, 77, "S998", sA2, 12);
  strip(205, 77, "Y1248", sA3, 12);
  const sB1 = site(ids.gB, CFG_B, "S129"), sB2 = site(ids.gB, CFG_B, "T450"), sB3 = site(ids.gB, CFG_B, "T308");
  strip(366, 77, "S129", sB1, 12);
  strip(451, 77, "T450", sB2, 12);
  strip(536, 77, "T308", sB3, 12);
  const sC1 = site(ids.gC, CFG_C, "S43"), sC2 = site(ids.gC, CFG_C, "T260"), sC3 = site(ids.gC, CFG_C, "S29");
  strip(695, 77, "RAF1: S43", sC1, 11);
  strip(780, 77, "RAF1: T260", sC2, 11);
  strip(865, 77, "RAF1: S29", sC3, 11);
  const sT1 = site(ids.gT, CFG_T, "S29"), sT2 = site(ids.gT, CFG_T, "T260"), sT3 = site(ids.gT, CFG_T, "S43");
  strip(1035, 77, "RAF1: S29", sT1, 11);
  strip(1121, 77, "RAF1: T260", sT2, 11);
  strip(1206, 77, "RAF1: S43", sT3, 11);

  /* connectors */
  link([[sA1.p[0] + 4.7, sA1.p[1] + 5], [sA1.p[0] + 4.7, 65], [389, 65], [389, 57], [397, 57]]);
  link([[sA2.p[0] + sA2.r, sA2.p[1]], [393, sA2.p[1]], [393, 128], [397, 128]]);
  link([[sA3.p[0] + sA3.r, sA3.p[1]], [397, sA3.p[1]]]);
  link([[sB1.p[0] + sB1.r, sB1.p[1]], [373, sB1.p[1]], [373, 401], [397, 401]]);
  link([[sB2.p[0] + sB2.r, sB2.p[1]], [372, sB2.p[1]], [372, 488], [397, 488]]);
  link([[sB3.p[0] + sB3.r, sB3.p[1]], [388, sB3.p[1]], [388, 572.5], [397, 572.5]]);
  link([[sC1.p[0] + sC1.r, sC1.p[1]], [372, sC1.p[1]], [372, 734], [397, 734]]);
  link([[sC2.p[0] + sC2.r, sC2.p[1]], [372, sC2.p[1]], [372, 819], [397, 819]]);
  link([[sC3.p[0], sC3.p[1] - 6.5], [sC3.p[0], 903], [160, 903], [163, 900], [206, 900], [209, 903], [397, 903]]);
  circ(sC3.p[0], sC3.p[1] - 6.5, 1.5, STEM_SIG, { z: 5 });
  link([[sT1.p[0] + sT1.r, sT1.p[1]], [397, sT1.p[1]]]);
  link([[sT2.p[0], sT2.p[1] + 7.7], [sT2.p[0], 1307], [388, 1307], [388, 1161], [397, 1161]]);
  circ(sT2.p[0], sT2.p[1] + 7.7, 1.5, STEM_SIG, { z: 5 });
  link([[sT3.p[0], sT3.p[1] + 6.5], [sT3.p[0], 1310], [393, 1310], [393, 1233], [397, 1233]]);
  circ(sT3.p[0], sT3.p[1] + 6.5, 1.5, STEM_SIG, { z: 5 });

  /* legend boxes */
  const box = (b: any) => {
    rect(b.x, b.y, b.w, b.h, "#ffffff", { r: 4, stroke: "#ececec", z: 10 });
    text(b.x + 6, b.t1y, "Sample Size");
    const r1 = radius(b.n1, b.k), r2 = radius(b.n2, b.k);
    circ(b.c1x, b.sizeY, r1, "#d3dee5");
    text(b.c1x + r1 + 2.5, b.sizeY, String(b.n1));
    circ(b.c2x, b.sizeY, r2, "#d3dee5");
    text(b.c2x + r2 + 2.5, b.sizeY, String(b.n2));
    text(b.x + 6, b.assocY, "Association");
    circ(b.cx, b.sigY, 4.5, "#ffffff", { stroke: "#555", lw: 1 });
    text(b.txtX, b.sigY, "Significantly");
    text(b.txtX, b.regY, "regulated");
    if (b.otherY) {
      circ(b.cx, b.otherY, 4.5, "#ffffff", { stroke: "#dde4e8", lw: 1 });
      text(b.txtX, b.otherY, "Other");
    }
    text(b.fdrX, b.t1y, "\u2212log(FDR)");
    const stops = FDR_STOPS.map(([t, c]) => ({ offset: 1 - t, color: c })).reverse();
    rect(b.barX, b.barY, b.barW, b.barH, new echarts.graphic.LinearGradient(0, 0, 0, 1, stops));
    b.ticks.forEach((v: number) => {
      const yy = b.barY + ((b.hi - v) / (b.hi - b.lo)) * b.barH;
      line(b.barX, yy, b.barX + 2.5, yy, "#ffffff");
      line(b.barX + b.barW - 2.5, yy, b.barX + b.barW, yy, "#ffffff");
      text(b.barX + b.barW + 3, yy, String(v), { size: 9 });
    });
  };
  box({ x: 82, y: 39, w: 140, h: 80, t1y: 52, sizeY: 66, c1x: 93, c2x: 128, n1: 40, n2: 80, k: 0.075, assocY: 84, sigY: 97, regY: 109, otherY: 0, cx: 93, txtX: 100, fdrX: 160, barX: 170, barY: 61, barW: 12, barH: 54, lo: CFG_A.lo, hi: CFG_A.hi, ticks: [10, 20, 30] });
  box({ x: 188, y: 374, w: 140, h: 99, t1y: 386, sizeY: 402, c1x: 197, c2x: 233, n1: 2, n2: 4, k: 1.5, assocY: 420, sigY: 433, regY: 444, otherY: 462, cx: 198, txtX: 206, fdrX: 272, barX: 276, barY: 395, barW: 11, barH: 52, lo: CFG_B.lo, hi: CFG_B.hi, ticks: [2, 4, 6] });
  box({ x: 217, y: 707, w: 140, h: 101, t1y: 720, sizeY: 735, c1x: 227, c2x: 258, n1: 2, n2: 4, k: 1.5, assocY: 757, sigY: 770, regY: 781, otherY: 797, cx: 226, txtX: 233, fdrX: 302, barX: 305, barY: 728, barW: 10, barH: 62, lo: CFG_C.lo, hi: CFG_C.hi, ticks: [1, 2, 3, 4] });
  box({ x: 239, y: 1205, w: 141, h: 92, t1y: 1216.7, sizeY: 1230.7, c1x: 251, c2x: 284, n1: 40, n2: 80, k: 0.075, assocY: 1248.3, sigY: 1261.7, regY: 1272.7, otherY: 1286, cx: 250.7, txtX: 257.3, fdrX: 328.3, barX: 328.3, barY: 1224.3, barW: 11, barH: 54, lo: CFG_T.lo, hi: CFG_T.hi, ticks: [2, 4, 6] });

  /* domain legends */
  const domLegend = (names: string[], colors: string[], sqX: number[], sqY: number[], txX: number[], sq: number) => {
    names.forEach((nm, i) => {
      if (colors[i]) rect(sqX[i], sqY[i] - sq / 2, sq, sq, colors[i]);
      text(txX[i], sqY[i], nm, { size: 9.5 });
    });
  };
  domLegend(ERBB2_LEGEND, ERBB2_LEGEND_COLORS, [42.5, 138, 194.5, 236.5, 263.5, 333.5], [326.7, 326.7, 326.7, 326.7, 326.7, 326.7], [48.5, 145, 201, 243, 270, 340], 5.5);
  domLegend(AKT1_LEGEND, AKT1_LEGEND_COLORS, [61, 121.7, 177.7], [657.3, 657.3, 657.3], [69.5, 130, 186], 6.5);
  domLegend(RAF1_LEGEND, RAF1_LEGEND_COLORS, [88.3, 88.3, 210, 210], [1000, 1011.7, 1000, 1011.7], [96, 96, 218.3, 218.3], 6.5);

  return g;
}

export default function App() {
  const ref = useRef<HTMLDivElement>(null);
  useEffect(() => {
    document.body.style.margin = "0";
    const chart = echarts.init(ref.current!, null, { renderer: "svg", width: 722, height: 1313 });
    const { option, ids } = buildOption();
    chart.setOption(option as any);
    chart.setOption({ graphic: buildGraphics(chart, ids) } as any);
    return () => chart.dispose();
  }, []);
  return <div ref={ref} style={{ width: 722, height: 1313 }} />;
}
